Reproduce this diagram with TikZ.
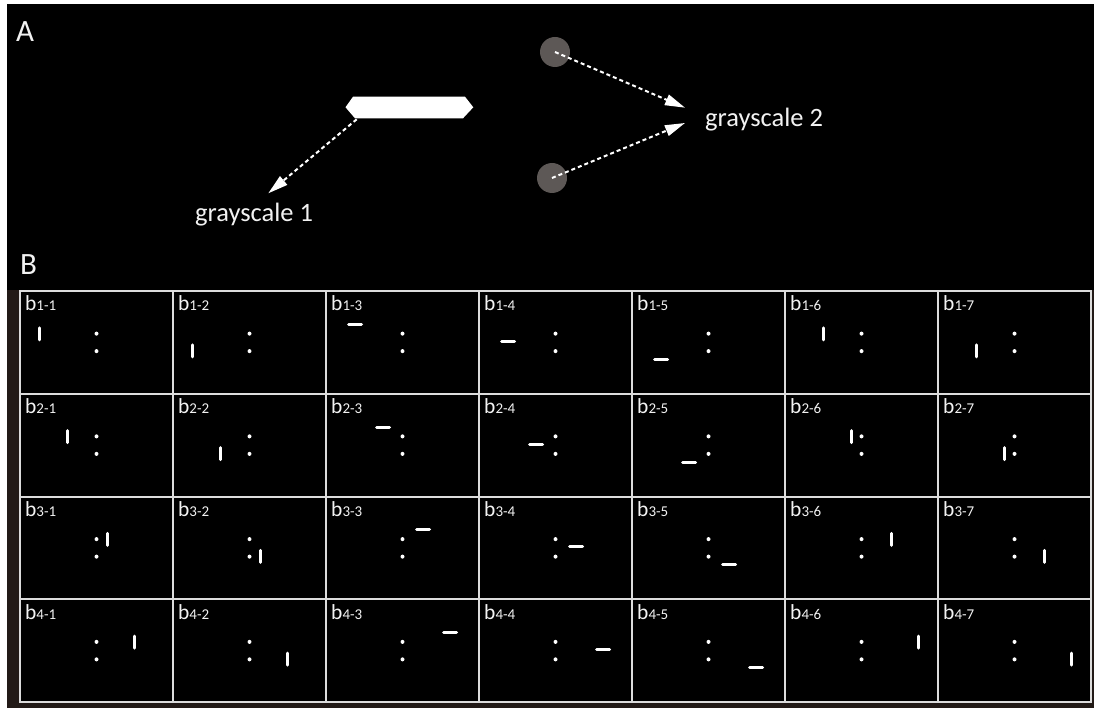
\documentclass[tikz,border=0pt]{standalone}
\usepackage{fontspec}
\setmainfont{Carlito}
\usetikzlibrary{arrows.meta}
\definecolor{bgbrown}{HTML}{221A17}
\definecolor{gridc}{HTML}{DCDCDC}
\definecolor{dotgray}{HTML}{5D5856}
\definecolor{txt}{HTML}{F2F2F2}
\tikzset{
  panellbl/.style={anchor=base west, inner sep=0pt, text=txt, font=\fontsize{31}{31}\selectfont},
  gslbl/.style={anchor=base west, inner sep=0pt, text=txt, font=\fontsize{26.5}{26.5}\selectfont},
  cellbox/.style={draw=gridc, line width=2pt, fill=black, minimum width=153pt, minimum height=102.75pt, inner sep=0pt, outer sep=0pt},
  celllbl/.style={anchor=base west, inner sep=0pt, text=txt},
  gcirc/.style={circle, fill=dotgray, minimum size=30pt, inner sep=0pt},
  dasharrow/.style={white, line width=2pt, dash pattern=on 4pt off 3pt, -{Triangle[length=20pt,width=11pt]}},
  barline/.style={white, line width=3pt, line cap=round},
}
\begin{document}
\begin{tikzpicture}[x=1pt,y=-1pt]
\useasboundingbox (0,0) rectangle (1094,708);
\fill[white] (0,0) rectangle (1094,708);
\fill[black] (7,4) rectangle (1094,290);
\fill[bgbrown] (7,290) rectangle (1094,708);

% Panel A
\node[panellbl] (lblA) at (16,41.7) {A};
\fill[white] (345.5,107.3) -- (353,96.7) -- (465,96.7) -- (473.3,107.3) -- (463,118.3) -- (355,118.3) -- cycle;
\coordinate (hexs) at (356.7,119.3);
\coordinate (t1) at (268.3,193.3);
\draw[dasharrow] (hexs) -- (t1);
\node[gslbl] (gs1) at (195,221.7) {grayscale 1};

\node[gcirc] (c1) at (555,52) {};
\node[gcirc] (c2) at (552,178) {};
\coordinate (t2a) at (685,107.7);
\coordinate (t2b) at (685,123);
\draw[dasharrow] (c1.center) -- (t2a);
\draw[dasharrow] (c2.center) -- (t2b);
\node[gslbl] (gs2) at (705,126.7) {grayscale 2};

% Panel B
\node[panellbl] (lblB) at (20,275) {B};

\foreach \r/\xa/\xb/\xc in {1/-57/-47.5/-38, 2/-29.5/-19.5/-10.5, 3/10.5/20.5/29.5, 4/38/47.5/57}{
  \foreach \c in {1,...,7}{
    \pgfmathsetmacro\cx{20+(\c-1)*153+76.5}
    \pgfmathsetmacro\cy{291+(\r-1)*102.75+51.375}
    \node[cellbox] (cell-\r-\c) at (\cx,\cy) {};
    \node[celllbl] (lbl-\r-\c) at ([xshift=5pt,yshift=-20pt]cell-\r-\c.north west)
      {\fontsize{21.5}{21.5}\selectfont b\fontsize{15}{15}\selectfont\r-\c};
    \fill[white] ([yshift=8.75pt]cell-\r-\c.center) circle (2pt)
                 ([yshift=-8.75pt]cell-\r-\c.center) circle (2pt);
  }
  \draw[barline] ([shift={(\xa pt,14.5pt)}]cell-\r-1.center) -- ([shift={(\xa pt,2.5pt)}]cell-\r-1.center);
  \draw[barline] ([shift={(\xa pt,-2.5pt)}]cell-\r-2.center) -- ([shift={(\xa pt,-14.5pt)}]cell-\r-2.center);
  \draw[barline] ([shift={(\xb pt-6.5pt,18pt)}]cell-\r-3.center) -- ([shift={(\xb pt+6.5pt,18pt)}]cell-\r-3.center);
  \draw[barline] ([shift={(\xb pt-6.5pt,1pt)}]cell-\r-4.center) -- ([shift={(\xb pt+6.5pt,1pt)}]cell-\r-4.center);
  \draw[barline] ([shift={(\xb pt-6.5pt,-17pt)}]cell-\r-5.center) -- ([shift={(\xb pt+6.5pt,-17pt)}]cell-\r-5.center);
  \draw[barline] ([shift={(\xc pt,14.5pt)}]cell-\r-6.center) -- ([shift={(\xc pt,2.5pt)}]cell-\r-6.center);
  \draw[barline] ([shift={(\xc pt,-2.5pt)}]cell-\r-7.center) -- ([shift={(\xc pt,-14.5pt)}]cell-\r-7.center);
}
\end{tikzpicture}
\end{document}
